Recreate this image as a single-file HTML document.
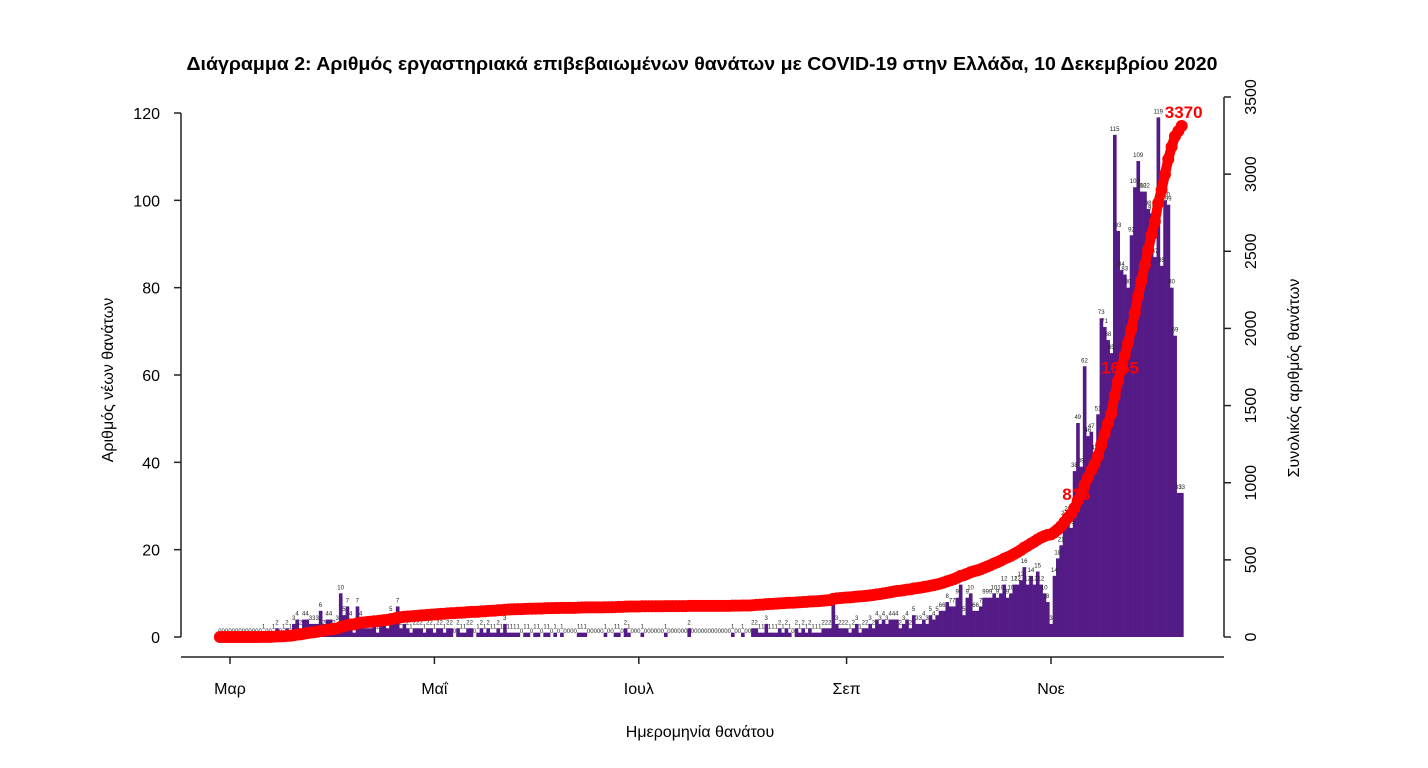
<!DOCTYPE html>
<html><head><meta charset="utf-8"><style>
body{margin:0;background:#fff;}
svg{display:block;font-family:"Liberation Sans","DejaVu Sans",sans-serif;}
</style></head><body>
<svg id="chart" width="1428" height="768" viewBox="0 0 1428 768">
<text x="702" y="70" text-anchor="middle" font-weight="bold" font-size="18" textLength="1031" lengthAdjust="spacingAndGlyphs">Διάγραμμα 2: Αριθμός εργαστηριακά επιβεβαιωμένων θανάτων με COVID-19 στην Ελλάδα, 10 Δεκεμβρίου 2020</text>
<g id="bars"></g>
<g id="barlabels"></g>
<g id="cum"></g>
<g id="axes"></g>
<text transform="translate(113,380) rotate(-90)" text-anchor="middle" font-size="16">Αριθμός νέων θανάτων</text>
<text transform="translate(1299,378) rotate(-90)" text-anchor="middle" font-size="16">Συνολικός αριθμός θανάτων</text>
<text x="700" y="737" text-anchor="middle" font-size="16">Ημερομηνία θανάτου</text>
</svg>
<script>
// daily deaths from Feb 27 to Dec 10
const daily = [0,0,0,
// Mar
0,0,0,0,0,0,0,0,0,0,1,0,0,1,2,0,1,2,1,3,4,2,4,4,3,3,3,6,2,4,4,
// Apr
2,3,10,5,7,4,1,7,4,2,2,2,3,1,3,3,2,5,3,7,2,3,2,1,2,2,2,1,2,2,
// May
1,2,2,1,2,2,0,2,1,1,2,2,0,1,2,1,2,1,1,2,1,3,1,1,1,1,0,1,1,0,1,
// Jun
1,0,1,1,0,1,0,1,0,0,0,0,1,1,1,0,0,0,0,0,1,0,0,1,1,0,2,1,0,0,
// Jul
0,1,0,0,0,0,0,0,1,0,0,0,0,0,0,2,0,0,0,0,0,0,0,0,0,0,0,0,1,0,0,
// Aug
1,0,0,2,2,1,1,3,1,1,1,2,1,2,1,0,2,1,2,1,2,1,1,1,2,2,2,8,3,2,2,
// Sep
2,1,2,3,1,2,2,3,2,4,3,4,3,4,4,4,2,3,4,2,5,3,3,4,3,5,4,5,6,6,
// Oct
8,7,7,9,12,5,9,10,6,6,7,9,9,9,10,9,10,12,9,10,12,12,13,16,12,14,12,15,12,10,8,
// Nov
3,14,18,21,27,28,25,38,49,39,62,46,47,42,51,73,71,68,65,115,93,84,83,80,92,103,109,102,102,98,
// Dec
97,87,119,85,100,99,80,69,33,33];
const startOffset = -3; // days relative to Mar 1
const leftTicks = [0,20,40,60,80,100,120];
const rightTicks = [0,500,1000,1500,2000,2500,3000,3500];
const monthLabels = ["Μαρ","Μαΐ","Ιουλ","Σεπ","Νοε"];
const monthDays = [0,61,122,184,245];
const cumLabels = [826,1655,3370];

const NS="http://www.w3.org/2000/svg";
const day0X=230, pxDay=3.351;
const xD = d => day0X + d*pxDay;
const yL = v => 637 - v*(524/120);
const yR = v => 637 - v*(540/3500);
function mk(tag, attrs, parent, text){const e=document.createElementNS(NS,tag);for(const k in attrs)e.setAttribute(k,attrs[k]);if(text!==undefined)e.textContent=text;parent.appendChild(e);return e;}

const gb=document.getElementById('bars'), gl=document.getElementById('barlabels');
daily.forEach((v,i)=>{
  const d=i+startOffset, cx=xD(d);
  if(v>0){
    const r=mk('rect',{x:cx-pxDay/2,y:yL(v),width:pxDay+0.3,height:637-yL(v),fill:'#541b86'},gb);
    
    
  }
  const t=mk('text',{x:cx,y:yL(v)-4,'text-anchor':'middle','font-size':6,fill:'#222'},gl,String(v));
  
  
});

const gc=document.getElementById('cum');
let cum=0; const cumVals=daily.map(v=>cum+=v);
let pts=cumVals.map((c,i)=>xD(i+startOffset)+','+yR(c)).join(' ');
const pl=mk('polyline',{points:pts,fill:'none',stroke:'#ff0000','stroke-width':10,'stroke-linejoin':'round','stroke-linecap':'round'},gc);


cumVals.forEach((c,i)=>{
  const p=mk('circle',{cx:xD(i+startOffset),cy:yR(c),r:6,fill:'#ff0000'},gc);
  
  
});
cumLabels.forEach(L=>{
  let idx=cumVals.findIndex(c=>c>=L); if(idx<0) idx=cumVals.length-1;
  const t=mk('text',{x:xD(idx+startOffset)+2,y:yR(cumVals[idx])-8,'text-anchor':'middle','font-size':17,'font-weight':'bold',fill:'#ff0000'},gc,String(L));
  
  
});

const ga=document.getElementById('axes');
mk('line',{x1:181,y1:yL(120),x2:181,y2:yL(0),stroke:'#222','stroke-width':1.5},ga);
leftTicks.forEach(v=>{
  mk('line',{x1:174,y1:yL(v),x2:181,y2:yL(v),stroke:'#222','stroke-width':1.5},ga);
  const t=mk('text',{x:160,y:yL(v)+6,'text-anchor':'end','font-size':16},ga,String(v));
  
  
});
mk('line',{x1:1224,y1:yR(3500),x2:1224,y2:yR(0),stroke:'#222','stroke-width':1.5},ga);
rightTicks.forEach(v=>{
  mk('line',{x1:1224,y1:yR(v),x2:1231,y2:yR(v),stroke:'#222','stroke-width':1.5},ga);
  const t=mk('text',{transform:`translate(1256,${yR(v)}) rotate(-90)`,'text-anchor':'middle','font-size':16},ga,String(v));
  
  
});
mk('line',{x1:181,y1:657,x2:1224,y2:657,stroke:'#222','stroke-width':1.5},ga);
monthLabels.forEach((m,i)=>{
  const x=xD(monthDays[i]);
  mk('line',{x1:x,y1:657,x2:x,y2:664,stroke:'#222','stroke-width':1.5},ga);
  const t=mk('text',{x:x,y:694,'text-anchor':'middle','font-size':16},ga,m);
  
  
});
</script>
</body></html>
